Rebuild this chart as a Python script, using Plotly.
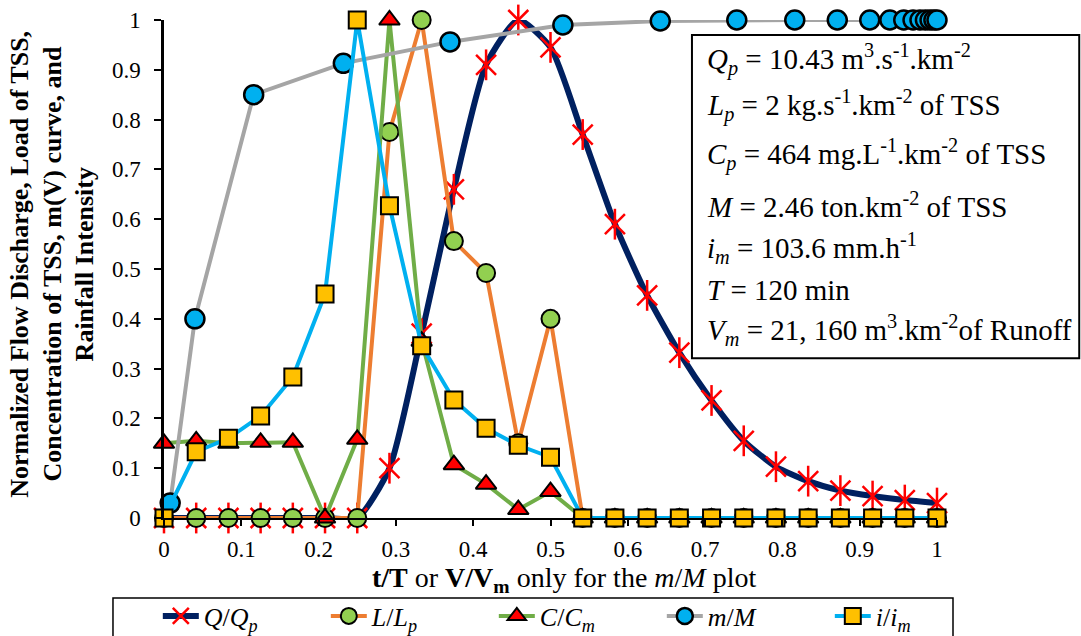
import plotly.graph_objects as go

# ---------------- data ----------------
t_over_T = [k / 24 for k in range(25)]

q_norm = [0, 0, 0, 0, 0, 0, 0, 0.10, 0.37, 0.66, 0.91, 1.0, 0.945, 0.77, 0.59,
          0.447, 0.332, 0.236, 0.155, 0.103, 0.074, 0.055, 0.044, 0.036, 0.03]
l_norm = [0, 0, 0, 0, 0, 0, 0, 0.775, 1.0, 0.556, 0.492, 0.15, 0.40, 0,
          0, 0, 0, 0, 0, 0, 0, 0, 0, 0, 0]
c_norm = [0.15, 0.155, 0.15, 0.152, 0.152, 0, 0.158, 1.0, 0.355, 0.107, 0.068,
          0.017, 0.053, 0, 0, 0, 0, 0, 0, 0, 0, 0, 0, 0, 0]
i_norm = [0, 0.133, 0.16, 0.205, 0.283, 0.45, 1.0, 0.627, 0.346, 0.237, 0.18,
          0.146, 0.122, 0, 0, 0, 0, 0, 0, 0, 0, 0, 0, 0, 0]
v_over_vm = [0.008, 0.04, 0.116, 0.232, 0.37, 0.516, 0.642, 0.741, 0.816, 0.871,
             0.913, 0.939, 0.957, 0.969, 0.978, 0.985, 0.991, 0.996, 1.0]
m_norm = [0.03, 0.40, 0.85, 0.913, 0.956, 0.99, 0.998, 1.0, 1.0, 1.0,
          1.0, 1.0, 1.0, 1.0, 1.0, 1.0, 1.0, 1.0, 1.0]

y_ticks = [0, 0.1, 0.2, 0.3, 0.4, 0.5, 0.6, 0.7, 0.8, 0.9, 1]
y_tick_text = ["0", "0.1", "0.2", "0.3", "0.4", "0.5", "0.6", "0.7", "0.8", "0.9", "1"]
x_ticks = y_ticks
x_tick_text = y_tick_text

EQ = "&nbsp;=&nbsp;"
info_lines = [
    "<i>Q</i><sub><i>p</i></sub>" + EQ + "10.43 m<sup>3</sup>.s<sup>-1</sup>.km<sup>-2</sup>",
    "<i>L</i><sub><i>p</i></sub>" + EQ + "2 kg.s<sup>-1</sup>.km<sup>-2</sup> of TSS",
    "<i>C</i><sub><i>p</i></sub>" + EQ + "464 mg.L<sup>-1</sup>.km<sup>-2</sup> of TSS",
    "<i>M</i>" + EQ + "2.46 ton.km<sup>-2</sup> of TSS",
    "<i>i</i><sub><i>m</i></sub>" + EQ + "103.6 mm.h<sup>-1</sup>",
    "<i>T</i>" + EQ + "120 min",
    "<i>V</i><sub><i>m</i></sub>" + EQ + "21, 160 m<sup>3</sup>.km<sup>-2</sup>of Runoff",
]
info_y = [0.920, 0.829, 0.729, 0.629, 0.542, 0.458, 0.378]

y_title_lines = ["Normalized Flow Discharge, Load of TSS,",
                 "Concentration of TSS, m(V) curve, and",
                 "Rainfall Intensity"]
y_title_x = [-0.188, -0.1455, -0.103]

FONT = "Liberation Serif"

fig = go.Figure()

# Q/Qp
fig.add_trace(go.Scatter(
    x=t_over_T, y=q_norm, mode="lines+markers", name="<i>Q</i>/<i>Q</i><sub><i>p</i></sub>",
    line=dict(color="#002060", width=6, shape="spline", smoothing=0.6),
    marker=dict(symbol="x-thin-open", size=20, color="#FF0000", line=dict(color="#FF0000", width=2.5)),
    cliponaxis=False,
))
fig.add_trace(go.Scatter(
    x=t_over_T, y=q_norm, mode="markers", showlegend=False, hoverinfo="skip",
    marker=dict(symbol="line-ns-open", size=22, color="#FF0000", line=dict(color="#FF0000", width=2.5)),
    cliponaxis=False,
))
# L/Lp
fig.add_trace(go.Scatter(
    x=t_over_T, y=l_norm, mode="lines+markers", name="<i>L</i>/<i>L</i><sub><i>p</i></sub>",
    line=dict(color="#ED7D31", width=4),
    marker=dict(symbol="circle", size=18, color="#92D050", line=dict(color="black", width=2)),
    cliponaxis=False,
))
# C/Cm
fig.add_trace(go.Scatter(
    x=t_over_T, y=c_norm, mode="lines+markers", name="<i>C</i>/<i>C</i><sub><i>m</i></sub>",
    line=dict(color="#70AD47", width=4),
    marker=dict(symbol="triangle-up", size=18, color="#FF0000", line=dict(color="black", width=2)),
    cliponaxis=False,
))
# m/M
fig.add_trace(go.Scatter(
    x=v_over_vm, y=m_norm, mode="lines+markers", name="<i>m</i>/<i>M</i>",
    line=dict(color="#A5A5A5", width=4),
    marker=dict(symbol="circle", size=19, color="#00B0F0", line=dict(color="black", width=2.5)),
    cliponaxis=False,
))
# i/im
fig.add_trace(go.Scatter(
    x=t_over_T, y=i_norm, mode="lines+markers", name="<i>i</i>/<i>i</i><sub><i>m</i></sub>",
    line=dict(color="#00B0F0", width=4),
    marker=dict(symbol="square", size=17, color="#FFC000", line=dict(color="black", width=2)),
    cliponaxis=False,
))

# info box
fig.add_shape(type="rect", xref="paper", yref="paper", x0=0.683, x1=1.184, y0=0.321, y1=0.970,
              line=dict(color="black", width=2), fillcolor="white", layer="above")
for txt, yy in zip(info_lines, info_y):
    fig.add_annotation(text=txt, xref="paper", yref="paper", x=0.700, y=yy,
                       xanchor="left", yanchor="middle", showarrow=False,
                       font=dict(family=FONT, size=29, color="black"))

# legend frame
fig.add_shape(type="rect", xref="paper", yref="paper", x0=-0.066, x1=1.0207, y0=-0.27, y1=-0.1606,
              line=dict(color="black", width=1.5), fillcolor="white", layer="below")

# y-axis title (three lines)
for txt, xx in zip(y_title_lines, y_title_x):
    fig.add_annotation(
        text="<b>" + txt + "</b>", xref="paper", yref="paper", x=xx, y=0.51,
        xanchor="center", yanchor="middle", textangle=-90, showarrow=False,
        font=dict(family=FONT, size=26, color="black"),
    )
# x-axis title
fig.add_annotation(
    text="<b>t/T</b> or <b>V/V<sub>m</sub></b> only for the <i>m</i>/<i>M</i> plot",
    xref="paper", yref="paper", x=0.517, y=-0.1225, xanchor="center", yanchor="middle",
    showarrow=False, font=dict(family=FONT, size=28, color="black"),
)

fig.update_layout(
    width=1081, height=636,
    margin=dict(l=164, r=144, t=20, b=118, autoexpand=False),
    paper_bgcolor="white", plot_bgcolor="white",
    font=dict(family=FONT, size=20, color="black"),
    showlegend=True,
    legend=dict(orientation="h", x=-0.008, y=-0.1968, xanchor="left", yanchor="middle",
                bgcolor="rgba(0,0,0,0)", borderwidth=0, itemwidth=36,
                font=dict(family=FONT, size=26), entrywidth=117, entrywidthmode="pixels"),
    xaxis=dict(range=[0, 1], tickvals=x_ticks, ticktext=x_tick_text, showgrid=False,
               zeroline=False, showline=True, linecolor="black", linewidth=2,
               ticks="outside", ticklen=6, tickwidth=2, tickcolor="black",
               tickfont=dict(family=FONT, size=23), ticklabelstandoff=3),
    yaxis=dict(range=[0, 1], tickvals=y_ticks, ticktext=y_tick_text, showgrid=False,
               zeroline=False, showline=True, linecolor="black", linewidth=2.5,
               ticks="outside", ticklen=7, tickwidth=2, tickcolor="black",
               tickfont=dict(family=FONT, size=23), ticklabelstandoff=9),
)

fig.write_html("out.html")
